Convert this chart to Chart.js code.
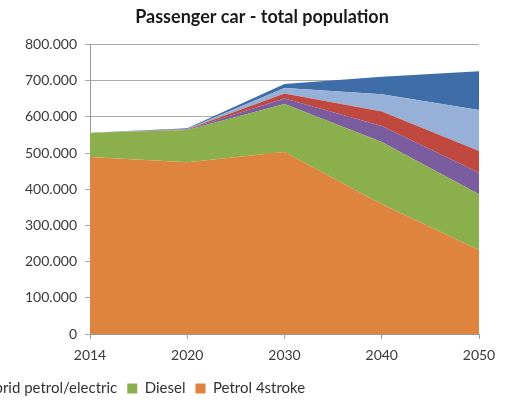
<!DOCTYPE html>
<html>
<head>
<meta charset="utf-8">
<script src="https://cdn.jsdelivr.net/npm/chart.js@4"></script>
<style>
  html, body { margin: 0; padding: 0; overflow: hidden; background: #fff; width: 506px; height: 404px; }
  #wrap { position: absolute; top: 0; }
</style>
</head>
<body>
<div id="wrap"><canvas id="chart"></canvas></div>
<script>
const years = ['2014', '2020', '2030', '2040', '2050'];

// stacked from the bottom up
const petrol4stroke = [489000, 475000, 503000, 359000, 232000];
const diesel        = [67000, 89000, 133000, 172000, 154000];
const hybridPetrol  = [0, 1000, 15000, 44000, 60000];
const hybridDiesel  = [0, 1000, 14000, 40000, 60000];
const plugInHybrid  = [0, 1000, 15000, 48000, 113000];
const electric      = [0, 2000, 11000, 48000, 107000];

const seriesNames = ['Petrol 4stroke', 'Diesel', 'Hybrid petrol/electric', 'Hybrid diesel/electric', 'Plug-in hybrid', 'Electric'];
const seriesValues = [petrol4stroke, diesel, hybridPetrol, hybridDiesel, plugInHybrid, electric];
const seriesColors = ['#DE843F', '#8CAF4E', '#7B5C9F', '#C0483F', '#96B0D7', '#3E6DA8'];

const yMin = 0;
const yMax = 800000;
const yStep = 100000;

const fontFamily = 'Lato';
const legendSize = 15;
const legendBox = 10;
const legendGap = 10;

// the picture is cut on the left, so the legend row starts off-screen:
// measure the items before "Diesel" to know how far left the canvas must reach
const mctx = document.createElement('canvas').getContext('2d');
mctx.font = legendSize + 'px ' + fontFamily;
function itemWidth(name) {
    return legendBox + legendSize / 2 + mctx.measureText(name).width + legendGap;
}
const legendOrder = seriesNames.slice().reverse();
let hiddenWidth = 0;
for (let i = 0; i < legendOrder.indexOf('Diesel'); i++) {
    hiddenWidth += itemWidth(legendOrder[i]);
}
const dieselBoxX = 127;
const titleCenter = 262;
const plotLeft = 90;
const plotRight = 479;
const leftEdge = Math.round(dieselBoxX - hiddenWidth - legendGap);
const rightEdge = 2 * titleCenter - leftEdge;

const wrap = document.getElementById('wrap');
const canvas = document.getElementById('chart');
wrap.style.left = leftEdge + 'px';
canvas.width = rightEdge - leftEdge;
canvas.height = 406;

function dots(v) {
    return String(v).replace(/\B(?=(\d{3})+(?!\d))/g, '.');
}

new Chart(canvas.getContext('2d'), {
    type: 'line',
    data: {
        labels: years,
        datasets: seriesNames.map((name, i) => ({
            label: name,
            data: seriesValues[i],
            backgroundColor: seriesColors[i],
            borderColor: seriesColors[i],
            borderWidth: 0,
            pointRadius: 0,
            pointHoverRadius: 0,
            tension: 0,
            fill: i === 0 ? 'origin' : '-1'
        }))
    },
    options: {
        responsive: false,
        animation: false,
        devicePixelRatio: 1,
        layout: { padding: 0 },
        plugins: {
            title: {
                display: true,
                text: 'Passenger car - total population',
                color: '#1a1a1a',
                font: { family: fontFamily, size: 18, weight: 'bold' },
                padding: { top: 6, bottom: 17 }
            },
            legend: {
                display: true,
                position: 'bottom',
                align: 'start',
                reverse: true,
                labels: {
                    color: '#333333',
                    font: { family: fontFamily, size: legendSize },
                    boxWidth: legendBox,
                    boxHeight: legendBox,
                    padding: legendGap
                }
            },
            tooltip: { enabled: false }
        },
        scales: {
            x: {
                type: 'category',
                offset: false,
                grid: { display: true, drawOnChartArea: false, color: '#9a9a9a', tickLength: 5 },
                border: { color: '#9a9a9a' },
                ticks: { color: '#3a3a3a', font: { family: fontFamily, size: 14 }, padding: 8, maxRotation: 0 },
                afterFit: s => { s.height = 37; }
            },
            y: {
                stacked: true,
                min: yMin,
                max: yMax,
                grid: { color: '#ababab', tickLength: 5 },
                border: { color: '#9a9a9a' },
                ticks: {
                    stepSize: yStep,
                    color: '#3a3a3a',
                    font: { family: fontFamily, size: 14 },
                    padding: 8,
                    callback: v => dots(v)
                },
                afterFit: s => { s.width = plotLeft - leftEdge; }
            },
            yRight: {
                axis: 'y',
                position: 'right',
                display: true,
                grid: { display: false },
                border: { display: false },
                ticks: { display: false },
                afterFit: s => { s.width = rightEdge - plotRight; }
            }
        }
    }
});
</script>
</body>
</html>
